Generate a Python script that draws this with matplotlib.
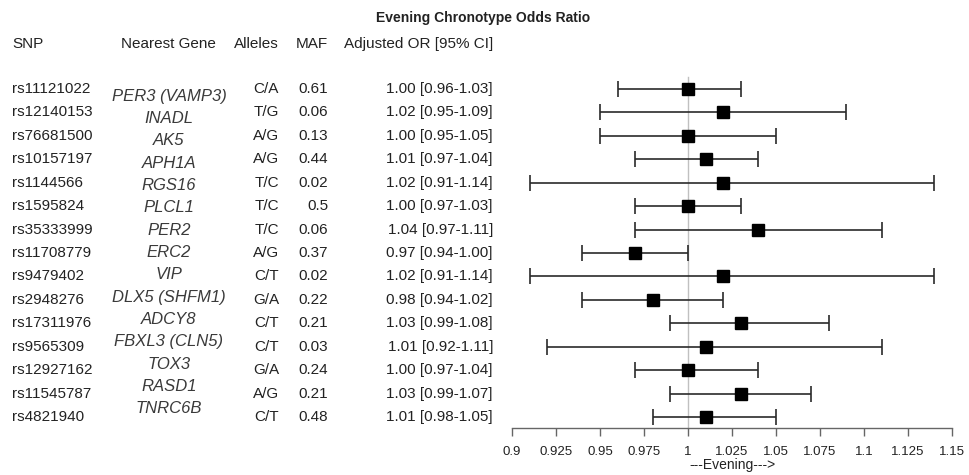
import matplotlib
matplotlib.use("Agg")
import matplotlib.pyplot as plt
import matplotlib.transforms as mtransforms

plt.rcParams['font.family'] = ['Liberation Sans', 'DejaVu Sans']

# Data
snps = ["rs11121022", "rs12140153", "rs76681500", "rs10157197", "rs1144566",
        "rs1595824", "rs35333999", "rs11708779", "rs9479402", "rs2948276",
        "rs17311976", "rs9565309", "rs12927162", "rs11545787", "rs4821940"]
genes = ["PER3 (VAMP3)", "INADL", "AK5", "APH1A", "RGS16", "PLCL1", "PER2", "ERC2",
         "VIP", "DLX5 (SHFM1)", "ADCY8", "FBXL3 (CLN5)", "TOX3", "RASD1", "TNRC6B"]
alleles = ["C/A", "T/G", "A/G", "A/G", "T/C", "T/C", "T/C", "A/G",
           "C/T", "G/A", "C/T", "C/T", "G/A", "A/G", "C/T"]
maf = ["0.61", "0.06", "0.13", "0.44", "0.02", "0.5", "0.06", "0.37",
       "0.02", "0.22", "0.21", "0.03", "0.24", "0.21", "0.48"]
odds = [1.00, 1.02, 1.00, 1.01, 1.02, 1.00, 1.04, 0.97, 1.02, 0.98, 1.03, 1.01, 1.00, 1.03, 1.01]
ci_low = [0.96, 0.95, 0.95, 0.97, 0.91, 0.97, 0.97, 0.94, 0.91, 0.94, 0.99, 0.92, 0.97, 0.99, 0.98]
ci_high = [1.03, 1.09, 1.05, 1.04, 1.14, 1.03, 1.11, 1.00, 1.14, 1.02, 1.08, 1.11, 1.04, 1.07, 1.05]
xticks = [0.9, 0.925, 0.95, 0.975, 1.0, 1.025, 1.05, 1.075, 1.1, 1.125, 1.15]

n = len(snps)
rows = [-i for i in range(n)]
# gene column in the original is spaced a little tighter than the other columns
gene_rows = [-0.3 - i * 0.954 for i in range(n)]

fig = plt.figure(figsize=(9.69, 4.75), dpi=100)
ax = fig.add_axes([0.5284, 0.0989, 0.4541, 0.7432])

txt_color = "#222222"

# reference line at OR = 1
ax.plot([1, 1], [0.5, -14.47], color="#c0c0c0", lw=1, zorder=1, clip_on=False)

# CIs and point estimates
xerr = [[o - l for o, l in zip(odds, ci_low)], [h - o for o, h in zip(odds, ci_high)]]
ax.errorbar(odds, rows, xerr=xerr, fmt="s", color="black", ecolor="#2a2a2a",
            elinewidth=1.2, capsize=6, capthick=1.2, markersize=8.5, zorder=3,
            clip_on=False)

ax.set_xlim(0.9, 1.15)
ax.set_ylim(-14.47, 0.6)
for s in ["left", "right", "top"]:
    ax.spines[s].set_visible(False)
ax.spines["bottom"].set_color("#666666")
ax.spines["bottom"].set_linewidth(1)
ax.set_yticks([])
ax.set_xticks(xticks)
ax.set_xticklabels([f"{v:g}" for v in xticks])
ax.tick_params(axis="x", direction="out", length=6, width=1, color="#666666",
               labelsize=9.5, labelcolor=txt_color, pad=7)
ax.set_xlabel("---Evening--->", fontsize=10, color=txt_color, labelpad=0)

# table on the left
trans = mtransforms.blended_transform_factory(fig.transFigure, ax.transData)
fs = 11
for i in range(n):
    fig.text(12 / 969, rows[i], snps[i], transform=trans, fontsize=fs,
             color=txt_color, ha="left", va="center")
    fig.text(169 / 969, gene_rows[i], genes[i], transform=trans, fontsize=12,
             style="italic", color="#3a3a3a", ha="center", va="center")
    fig.text(279 / 969, rows[i], alleles[i], transform=trans, fontsize=fs,
             color=txt_color, ha="right", va="center")
    fig.text(328 / 969, rows[i], maf[i], transform=trans, fontsize=fs,
             color=txt_color, ha="right", va="center")
    fig.text(493 / 969, rows[i],
             f"{odds[i]:.2f} [{ci_low[i]:.2f}-{ci_high[i]:.2f}]",
             transform=trans, fontsize=fs, color=txt_color, ha="right", va="center")

# header row
hy = 1.92
fig.text(12 / 969, hy, "SNP", transform=trans, fontsize=fs, color=txt_color, ha="left", va="center")
fig.text(168 / 969, hy, "Nearest Gene", transform=trans, fontsize=fs, color=txt_color, ha="center", va="center")
fig.text(279 / 969, hy, "Alleles", transform=trans, fontsize=fs, color=txt_color, ha="right", va="center")
fig.text(328 / 969, hy, "MAF", transform=trans, fontsize=fs, color=txt_color, ha="right", va="center")
fig.text(493 / 969, hy, "Adjusted OR [95% CI]", transform=trans, fontsize=fs, color=txt_color, ha="right", va="center")

fig.text(483 / 969, 1 - 18 / 475, "Evening Chronotype Odds Ratio", fontsize=10,
         fontweight="bold", color=txt_color, ha="center", va="center")

fig.savefig("out.png", dpi=100)
